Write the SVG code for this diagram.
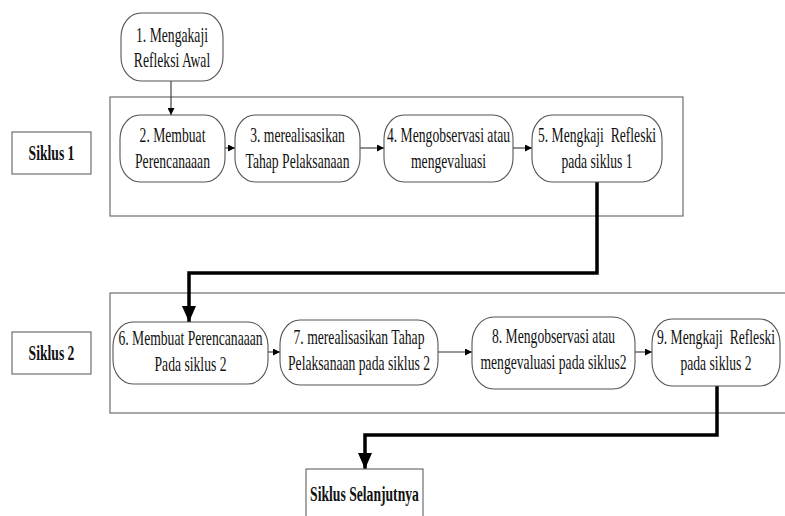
<svg xmlns="http://www.w3.org/2000/svg" width="785" height="516" viewBox="0 0 785 516">
<style>
.bg{fill:#ffffff}
.cont{fill:none;stroke:#6e6e6e;stroke-width:1.2}
.lab{fill:#ffffff;stroke:#6e6e6e;stroke-width:1.2}
.node{fill:#ffffff;stroke:#555555;stroke-width:1.1}
.t{font-family:'Liberation Serif','Times New Roman','DejaVu Serif',serif;font-size:22px;fill:#111111;text-anchor:middle}
.b{font-weight:bold}
.thin{fill:none;stroke:#333333;stroke-width:1.1}
.thick{fill:none;stroke:#000000;stroke-width:3.5}
</style>
<defs>
<marker id="ah" viewBox="0 0 10 10" refX="10" refY="5" markerWidth="7" markerHeight="7" markerUnits="userSpaceOnUse" orient="auto">
<path d="M0,0 L10,5 L0,10 z" fill="#000"/>
</marker>
<marker id="ahb" viewBox="0 0 10 10" refX="10" refY="5" markerWidth="16" markerHeight="14" markerUnits="userSpaceOnUse" orient="auto" preserveAspectRatio="none">
<path d="M0,0 L10,5 L0,10 z" fill="#000"/>
</marker>
</defs>
<rect class="bg" x="0" y="0" width="785" height="516"/>

<g id="containers">
<rect id="cycle1" class="cont" x="110" y="97" width="573" height="119"/>
<rect id="cycle2" class="cont" x="110" y="293" width="700" height="120"/>
</g>

<g id="connectors">
<path class="thin" d="M171,81 V115" marker-end="url(#ah)"/>
<path class="thin" d="M225,148 H235" marker-end="url(#ah)"/>
<path class="thin" d="M360,148 H384" marker-end="url(#ah)"/>
<path class="thin" d="M513,148 H532" marker-end="url(#ah)"/>
<path class="thin" d="M268,352 H280" marker-end="url(#ah)"/>
<path class="thin" d="M438,352 H472" marker-end="url(#ah)"/>
<path class="thin" d="M635,352 H652" marker-end="url(#ah)"/>
<path class="thick" d="M597,182 V273 H189 V322" marker-end="url(#ahb)"/>
<path class="thick" d="M717,386 V435 H365 V469" marker-end="url(#ahb)"/>
</g>

<g id="label-siklus1">
<rect class="lab" x="12" y="132" width="79" height="42"/>
<g transform="translate(51.5 0) scale(0.62 1)"><text class="t b" x="0" y="160">Siklus 1</text></g>
</g>
<g id="label-siklus2">
<rect class="lab" x="12" y="332" width="79" height="42"/>
<g transform="translate(51.5 0) scale(0.62 1)"><text class="t b" x="0" y="360">Siklus 2</text></g>
</g>

<g id="node1">
<rect class="node" x="121" y="13" width="102" height="68" rx="20" ry="24"/>
<g transform="translate(172 0) scale(0.62 1)"><text class="t" x="0" y="42">1. Mengakaji</text><text class="t" x="0" y="67">Refleksi Awal</text></g>
</g>
<g id="node2">
<rect class="node" x="120" y="115" width="105" height="67" rx="20" ry="24"/>
<g transform="translate(172.5 0) scale(0.62 1)"><text class="t" x="0" y="142">2. Membuat</text><text class="t" x="0" y="168">Perencanaaan</text></g>
</g>
<g id="node3">
<rect class="node" x="235" y="115" width="125" height="67" rx="20" ry="24"/>
<g transform="translate(297.5 0) scale(0.62 1)"><text class="t" x="0" y="142">3. merealisasikan</text><text class="t" x="0" y="168">Tahap Pelaksanaan</text></g>
</g>
<g id="node4">
<rect class="node" x="384" y="115" width="129" height="67" rx="20" ry="24"/>
<g transform="translate(448.5 0) scale(0.62 1)"><text class="t" x="0" y="142">4. Mengobservasi atau</text><text class="t" x="0" y="168">mengevaluasi</text></g>
</g>
<g id="node5">
<rect class="node" x="532" y="115" width="130" height="67" rx="20" ry="24"/>
<g transform="translate(597 0) scale(0.62 1)"><text class="t" x="0" y="142" xml:space="preserve">5. Mengkaji  Refleski</text><text class="t" x="0" y="168">pada siklus 1</text></g>
</g>
<g id="node6">
<rect class="node" x="113" y="322" width="155" height="62" rx="20" ry="24"/>
<g transform="translate(190.5 0) scale(0.62 1)"><text class="t" x="0" y="345">6. Membuat Perencanaaan</text><text class="t" x="0" y="371">Pada siklus 2</text></g>
</g>
<g id="node7">
<rect class="node" x="280" y="320" width="158" height="65" rx="20" ry="24"/>
<g transform="translate(359 0) scale(0.62 1)"><text class="t" x="0" y="344">7. merealisasikan Tahap</text><text class="t" x="0" y="370">Pelaksanaan pada siklus 2</text></g>
</g>
<g id="node8">
<rect class="node" x="472" y="317" width="163" height="72" rx="22" ry="26"/>
<g transform="translate(553.5 0) scale(0.62 1)"><text class="t" x="0" y="343">8. Mengobservasi atau</text><text class="t" x="0" y="369">mengevaluasi pada siklus2</text></g>
</g>
<g id="node9">
<rect class="node" x="652" y="319" width="128" height="67" rx="20" ry="24"/>
<g transform="translate(716 0) scale(0.62 1)"><text class="t" x="0" y="344" xml:space="preserve">9. Mengkaji  Refleski</text><text class="t" x="0" y="370">pada siklus 2</text></g>
</g>
<g id="next-cycle">
<rect class="lab" x="306" y="469" width="117" height="60"/>
<g transform="translate(364.5 0) scale(0.62 1)"><text class="t b" x="0" y="501">Siklus Selanjutnya</text></g>
</g>
</svg>
